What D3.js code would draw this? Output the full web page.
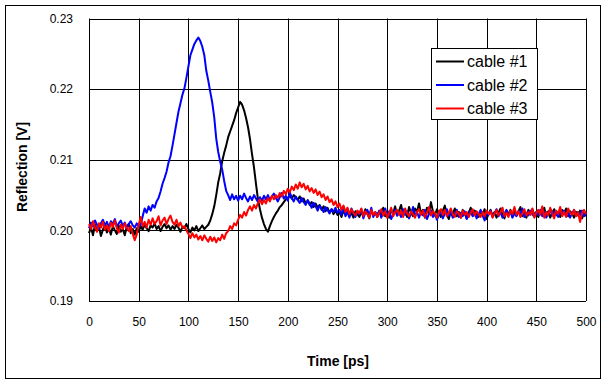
<!DOCTYPE html>
<html>
<head>
<meta charset="utf-8">
<script src="https://cdn.jsdelivr.net/npm/d3@7"></script>
<style>
  body { margin: 0; background: #fff; }
  text { font-family: "Liberation Sans", Arial, sans-serif; }
</style>
</head>
<body>
<div id="chart"></div>
<script>
// sample spacing of the scope traces, ps
var timeStep = 2;

var seriesNames = ["cable #1", "cable #2", "cable #3"];
var seriesColors = ["#000000", "#0000ff", "#ff0000"];

var xTicks = [0, 50, 100, 150, 200, 250, 300, 350, 400, 450, 500];
var yTicks = [0.19, 0.20, 0.21, 0.22, 0.23];

// reflection in mV, one value per 2 ps from 0 to 500 ps
var cable1 = [
  199.6, 200.4, 199.3, 200.8, 199.9, 200.5, 199.2, 200.1, 200.9, 199.7, 200.3, 199.4, 200.6,
  200.0, 199.5, 200.7, 199.8, 200.2, 199.3, 200.5, 200.9, 199.6, 200.2, 199.4, 200.3, 199.8,
  200.6, 200.1, 200.8, 200.3, 199.9, 200.7, 200.4, 201.0, 200.2, 200.6, 199.9, 200.5, 200.9,
  200.3, 200.7, 200.1, 200.6, 200.2, 200.8, 200.4, 199.8, 200.5, 200.3, 200.9, 200.2, 199.7,
  200.4, 200.0, 200.6, 199.9, 200.3, 200.7, 200.2, 200.5,
  200.8, 201.4, 202.3, 203.4, 205.0, 206.8, 208.1, 209.8, 211.0, 212.0,
  213.2, 214.0, 214.8, 215.6, 216.6, 217.4, 218.2, 217.8, 217.0, 215.9,
  214.6, 212.9, 210.8, 208.9, 206.6, 204.4, 203.0, 201.8, 200.9, 200.2,
  199.8, 200.6, 201.3, 201.9, 202.4, 202.8, 203.3, 203.6, 204.0, 204.4,
  204.6, 204.9, 204.5, 205.0, 204.7, 204.3, 204.8, 204.1, 204.5, 203.8,
  204.2, 203.6, 204.0, 203.3, 203.8, 203.2, 203.6, 202.9, 203.4, 202.7,
  203.2, 202.5, 203.0, 202.3, 202.8, 202.2,
  202.6, 201.9, 202.8, 202.2, 203.1, 202.0, 202.5, 201.8, 202.7, 202.3,
  201.9, 202.6, 202.1, 203.0, 202.4, 201.7, 202.8, 202.2, 202.5, 201.9,
  202.7, 202.3, 203.2, 202.0, 202.6, 201.8, 202.9, 202.4, 203.4, 202.1,
  202.8, 203.6, 202.2, 202.7, 201.9, 203.3, 202.5, 202.0, 203.1, 202.6,
  203.8, 202.4, 202.9, 201.8, 203.2, 202.3, 204.0, 202.7, 202.1, 203.0,
  202.5, 201.9, 202.8, 203.5, 202.2, 201.6, 202.7, 202.3, 203.1, 202.0,
  202.6, 201.8, 202.9, 202.4, 201.7, 202.5, 203.2, 202.1, 202.8, 202.3,
  201.9, 202.7, 202.2, 203.0, 201.6, 202.4, 202.9, 202.0, 202.6, 201.8,
  202.5, 203.1, 202.2, 201.7, 202.8, 202.3, 202.9, 201.9, 202.6, 202.1,
  202.7, 203.3, 202.0, 202.5, 201.8, 202.9, 202.3, 203.0, 202.2, 202.6,
  201.9, 202.8, 202.4, 203.2, 202.0, 202.7, 201.8, 202.5, 203.0, 202.2,
  202.6, 201.9, 202.9, 202.3, 203.1, 202.0, 202.7, 202.4, 201.8, 202.6,
  202.1, 202.8, 201.7, 202.4, 202.0
];

var cable2 = [
  200.3, 201.1, 200.6, 201.4, 200.8, 200.2, 201.0, 201.5, 200.7, 201.2, 200.4, 201.3, 200.9,
  201.6, 200.5, 201.0, 201.4, 200.6, 201.1, 200.3, 200.9, 201.3, 200.7, 200.4, 201.0, 200.5,
  200.8, 202.0, 203.1, 202.5, 203.4, 202.8, 203.6, 203.2, 204.1, 204.6,
  205.5, 206.6, 207.4, 208.3, 209.6, 210.5, 212.0, 213.6, 215.2, 216.8,
  218.0, 219.2, 220.1, 221.6, 223.2, 224.8, 225.6, 226.4, 226.9, 227.3,
  226.8, 226.0, 224.8, 222.6, 221.2, 219.6, 218.1, 216.0, 213.0, 211.1,
  209.7, 208.6, 207.0, 205.6, 205.0, 204.3, 205.1, 204.4, 204.9, 204.2,
  204.9, 204.4, 205.2, 204.6, 204.1, 204.8, 204.3, 205.0, 204.5, 204.0,
  204.7, 204.2, 204.9, 204.4, 205.0, 204.3, 204.8, 205.2, 204.6, 204.1,
  204.7, 205.3, 204.5, 204.9, 204.2, 205.4, 204.6, 204.1, 204.8, 204.3,
  203.9, 204.6, 204.0, 203.6, 204.3, 203.8, 203.2, 203.9, 203.4, 202.8,
  203.5, 203.1, 202.6, 203.3, 202.9, 202.4, 203.0, 202.6, 203.2, 202.5,
  202.9, 202.2, 203.4, 202.0, 202.6, 201.8, 203.1, 202.4, 201.9, 202.7,
  202.3, 203.0, 201.7, 202.5, 202.9, 202.1, 203.2, 201.9, 202.6, 202.2,
  202.8, 201.8, 202.4, 203.1, 202.0, 202.7, 201.6, 202.3, 202.9, 202.1,
  202.5, 201.9, 203.0, 202.2, 202.7, 201.7, 202.4, 203.3, 202.0, 202.6,
  201.8, 202.5, 202.1, 202.9, 201.6, 202.3, 202.8, 201.9, 202.4, 201.5,
  202.2, 202.8, 201.7, 202.4, 203.0, 202.1, 202.6, 201.8, 202.3, 202.9,
  201.9, 202.5, 202.0, 202.7, 201.6, 202.2, 202.8, 202.0, 202.5, 201.7,
  202.3, 202.9, 202.1, 201.4, 202.6, 202.2, 202.8, 201.9, 202.4, 203.0,
  202.0, 202.6, 201.8, 202.3, 202.9, 202.1, 202.7, 201.8, 202.4, 202.0,
  202.7, 202.2, 203.1, 201.9, 202.5, 202.1, 202.8, 202.3, 201.9, 202.6,
  202.2, 202.9, 202.0, 202.6, 201.8, 202.4, 203.0, 202.1, 202.7, 202.3,
  201.9, 202.6, 202.2, 202.8, 202.0, 202.5, 201.8, 202.4, 202.9, 202.1,
  202.6, 202.2, 202.8, 202.0, 202.4
];

var cable3 = [
  200.9, 200.2, 201.3, 200.5, 199.8, 201.0, 200.4, 201.2, 200.1, 200.7, 199.9, 201.1, 200.5,
  201.4, 200.3, 199.7, 200.8, 200.2, 201.0, 200.4, 199.9, 200.6, 199.5, 198.6, 199.4, 200.8,
  201.9, 200.6, 201.2, 200.4, 201.5, 200.8, 201.7, 200.9, 201.3, 202.0, 200.7,
  201.4, 201.8, 200.9, 201.6, 202.1, 201.2, 200.8, 201.5, 200.6, 201.1, 200.4,
  200.6, 200.0, 199.5, 198.9, 199.6, 199.0, 199.4, 198.7, 199.2, 198.6,
  199.3, 198.8, 198.4, 199.1, 198.5, 199.0, 198.3, 198.9, 198.6, 199.4,
  198.8, 199.6, 199.9, 200.6, 200.2, 201.0, 200.7, 201.5, 202.2, 201.8,
  202.6, 202.1, 202.9, 203.4, 202.8, 203.6, 203.1, 203.9, 204.4, 203.7,
  204.3, 203.8, 204.6, 204.1, 204.9, 204.4, 205.0, 204.6, 205.3, 204.8,
  205.6, 205.1, 205.9, 205.4, 206.2, 205.7, 206.5, 205.9, 206.8, 206.1,
  206.6, 205.8, 206.3, 205.5, 206.0, 205.3, 205.8, 205.0, 205.5, 204.7,
  205.1, 204.3, 204.8, 204.0, 204.4, 203.6, 204.1, 203.3,
  203.8, 202.9, 203.5, 202.6, 203.2, 202.3, 203.0, 202.5, 202.1, 202.8,
  202.4, 203.1, 202.0, 202.7, 202.3, 201.8, 202.9, 202.2, 202.6, 201.9,
  202.5, 203.0, 202.1, 202.7, 201.8, 202.4, 203.2, 202.0, 202.6, 202.9,
  202.2, 202.8, 201.9, 203.1, 202.4, 202.0, 202.7, 202.3, 201.8, 202.6,
  203.0, 202.2, 202.8, 201.9, 202.5, 203.3, 202.1, 202.7, 202.4, 201.8,
  202.6, 203.0, 202.2, 202.9, 202.0, 202.5, 203.1, 202.3, 201.9, 202.7,
  202.4, 201.8, 202.8, 202.2, 202.6, 201.9, 202.5, 203.0, 202.1, 202.7,
  202.3, 201.9, 202.6, 202.0, 202.8, 202.3, 202.7, 201.8, 202.4, 202.9,
  202.1, 202.6, 203.2, 202.0, 202.5, 201.9, 202.8, 202.3, 203.3, 202.2,
  202.7, 201.9, 202.4, 203.0, 202.1, 202.6, 202.2, 203.1, 201.8, 202.5,
  202.9, 202.2, 203.4, 201.8, 202.6, 202.1, 203.2, 202.4, 201.7, 202.8,
  202.3, 203.3, 202.0, 202.6, 201.9, 203.1, 202.5, 202.2, 202.9, 202.0,
  202.6, 201.2, 202.4, 202.9, 202.3
];

var allSeries = [cable1, cable2, cable3];

var width = 608, height = 385;
var margins = { left: 89, right: 22, top: 18.5, bottom: 84 };

var svg = d3.select("#chart").append("svg")
    .attr("width", width)
    .attr("height", height);

svg.append("rect")
    .attr("x", 5.5).attr("y", 5.5)
    .attr("width", 595).attr("height", 373)
    .attr("fill", "#fff")
    .attr("stroke", "#000");

var x = d3.scaleLinear().domain([0, 500]).range([margins.left, width - margins.right]);
var y = d3.scaleLinear().domain([0.19, 0.23]).range([height - margins.bottom, margins.top]);

// grid
var grid = svg.append("g").attr("class", "grid");
grid.selectAll("line.v").data(xTicks).enter().append("line")
    .attr("x1", function (d) { return Math.round(x(d)) + 0.5; })
    .attr("x2", function (d) { return Math.round(x(d)) + 0.5; })
    .attr("y1", y(0.19)).attr("y2", y(0.23))
    .attr("stroke", "#000");
grid.selectAll("line.h").data(yTicks).enter().append("line")
    .attr("y1", function (d) { return Math.round(y(d)) + 0.5; })
    .attr("y2", function (d) { return Math.round(y(d)) + 0.5; })
    .attr("x1", x(0)).attr("x2", x(500))
    .attr("stroke", "#000");

// axes without domain line, labels only
var xAxis = d3.axisBottom(x).tickValues(xTicks).tickSize(0).tickPadding(16);
var yAxis = d3.axisLeft(y).tickValues(yTicks).tickSize(0).tickPadding(16)
    .tickFormat(d3.format(".2f"));

svg.append("g")
    .attr("transform", "translate(0," + y(0.19) + ")")
    .call(xAxis)
    .call(function (g) { g.select(".domain").remove(); })
    .selectAll("text").attr("font-size", 12).attr("font-family", "Liberation Sans, Arial, sans-serif");

svg.append("g")
    .attr("transform", "translate(" + x(0) + ",0)")
    .call(yAxis)
    .call(function (g) { g.select(".domain").remove(); })
    .selectAll("text").attr("font-size", 12).attr("font-family", "Liberation Sans, Arial, sans-serif");

// traces
var line = d3.line()
    .x(function (d, i) { return x(i * timeStep); })
    .y(function (d) { return y(d / 1000); });

svg.append("g").selectAll("path").data(allSeries).enter().append("path")
    .attr("d", line)
    .attr("fill", "none")
    .attr("stroke", function (d, i) { return seriesColors[i]; })
    .attr("stroke-width", 2)
    .attr("stroke-linejoin", "round");

// axis titles
svg.append("text")
    .attr("x", 338).attr("y", 366)
    .attr("text-anchor", "middle")
    .attr("font-size", 14).attr("font-weight", "bold")
    .text("Time [ps]");

svg.append("text")
    .attr("transform", "translate(27,167) rotate(-90)")
    .attr("text-anchor", "middle")
    .attr("font-size", 14).attr("font-weight", "bold")
    .text("Reflection [V]");

// legend
var legend = svg.append("g").attr("transform", "translate(431,48)");
legend.append("rect")
    .attr("x", 0.5).attr("y", 0.5)
    .attr("width", 106).attr("height", 71)
    .attr("fill", "#fff").attr("stroke", "#000");

var item = legend.selectAll("g.item").data(seriesNames).enter().append("g")
    .attr("class", "item")
    .attr("transform", function (d, i) { return "translate(0," + (13.5 + i * 23.5) + ")"; });
item.append("line")
    .attr("x1", 5).attr("x2", 33)
    .attr("stroke", function (d, i) { return seriesColors[i]; })
    .attr("stroke-width", 2);
item.append("text")
    .attr("x", 36).attr("y", 5.5)
    .attr("font-size", 16)
    .text(function (d) { return d; });
</script>
</body>
</html>
